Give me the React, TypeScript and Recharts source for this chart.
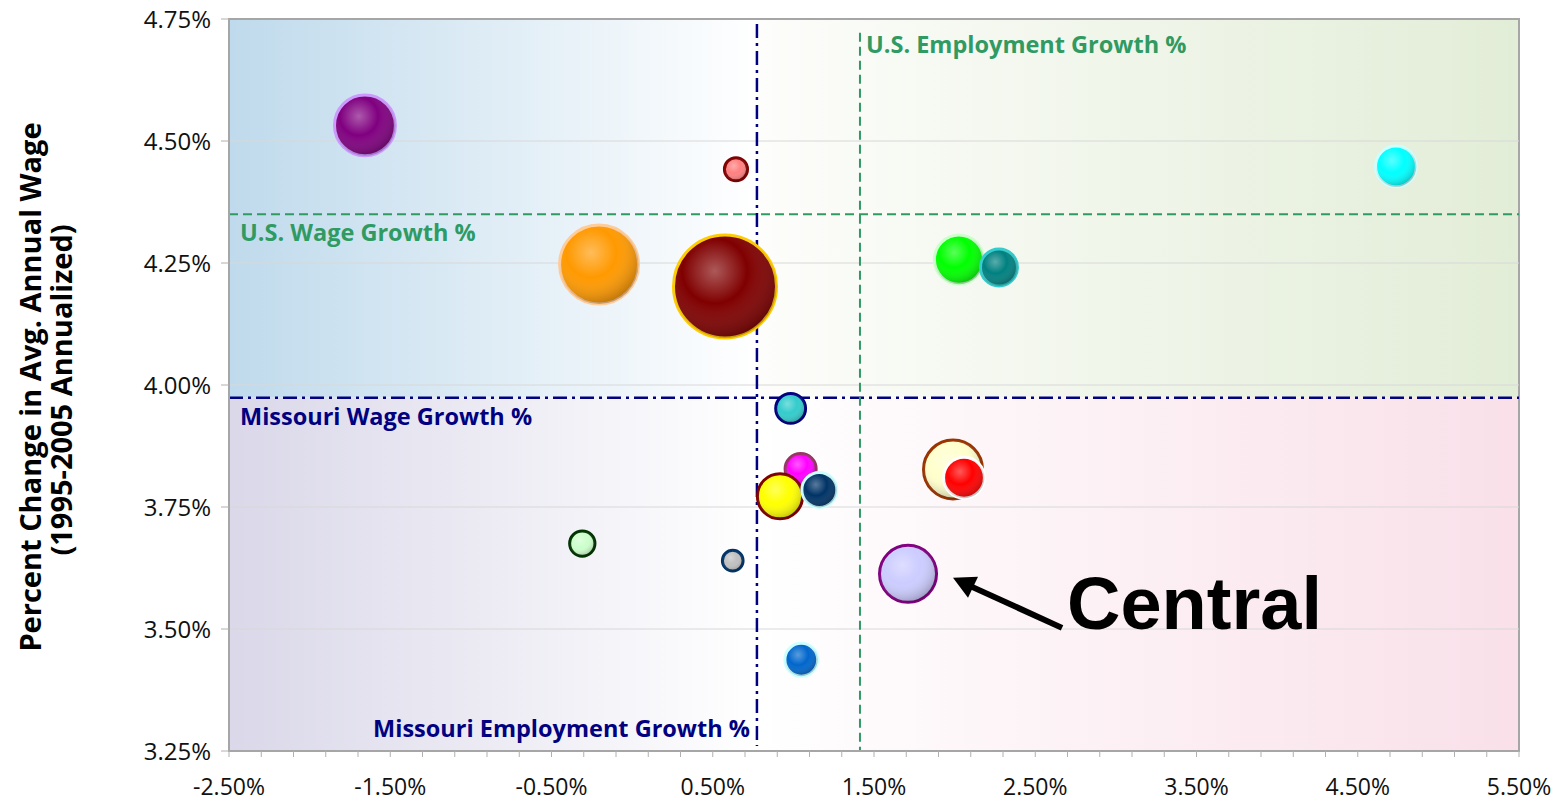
import React from 'react';
import {
  ScatterChart,
  Scatter,
  XAxis,
  YAxis,
  ZAxis,
  ReferenceLine,
  ReferenceArea,
  ReferenceDot,
  Customized,
} from 'recharts';

// employment growth (x, %) and wage growth (y, %) for each region, 1995-2005
const empGrowth = [-1.657, 0.644, 4.737, -0.205, 0.576, 2.027, 2.275, 0.983, 1.045, 0.917, 1.161, -0.309, 0.624, 1.049, 1.99, 2.058, 1.711];
const wageGrowth = [4.532, 4.442, 4.448, 4.247, 4.202, 4.257, 4.241, 3.952, 3.828, 3.772, 3.785, 3.675, 3.64, 3.437, 3.827, 3.81, 3.613];
const regionSize = [102, 17, 48, 168, 281, 68, 40, 27, 29, 58, 36, 20, 14, 32, 96, 48, 90];

const bubbleFill = ['#800080', '#ff8080', '#00ffff', '#ff9900', '#800000', '#00ff00', '#008080', '#33cccc', '#ff00ff', '#ffff00', '#003366', '#ccffcc', '#c0c0c0', '#0066cc', '#ffffcc', '#ff0000', '#ccccff'];
const bubbleStroke = ['#cc99ff', '#800000', '#ccffff', '#ffcc99', '#ffcc00', '#ccffcc', '#33cccc', '#000080', '#993366', '#800000', '#ccffff', '#003300', '#003366', '#ccffff', '#993300', '#ffffff', '#800080'];

// the highlighted region
const centralEmp = 1.711;
const centralWage = 3.613;

// benchmark lines
const usWageGrowth = 4.35;
const moWageGrowth = 3.974;
const usEmpGrowth = 1.413;
const moEmpGrowth = 0.774;

const xMajorTicks = [-2.5, -1.5, -0.5, 0.5, 1.5, 2.5, 3.5, 4.5, 5.5];
const yMajorTicks = [3.25, 3.5, 3.75, 4.0, 4.25, 4.5, 4.75];
const yGridLines = [3.5, 3.75, 4.0, 4.25, 4.5];

const xAllTicks: number[] = [];
for (let k = 0; k <= 40; k++) xAllTicks.push(Math.round((-2.5 + k * 0.2) * 100) / 100);
const yMinorTicks: number[] = [];
for (let k = 0; k <= 30; k++) yMinorTicks.push(Math.round((3.25 + k * 0.05) * 100) / 100);

const data = empGrowth.map((x, i) => ({ x, y: wageGrowth[i], z: regionSize[i], idx: i }));

const FONT = '"Open Sans", sans-serif';
const GREEN = '#2f9a62';
const NAVY = '#000080';

const Bubble = (props: any) => {
  const { cx, cy, payload } = props;
  let r = props.width ? props.width / 2 : Math.sqrt((props.size || 0) / Math.PI);
  r = Math.max(r - 1.5, 2);
  const i = payload.idx;
  return (
    <g>
      <circle cx={cx} cy={cy} r={r} fill={bubbleFill[i]} stroke={bubbleStroke[i]} strokeWidth={3} />
      <circle cx={cx} cy={cy} r={r} fill="url(#shine)" />
    </g>
  );
};

const XTick = (props: any) => {
  const { x, y, payload } = props;
  if (!xMajorTicks.some((t) => Math.abs(t - payload.value) < 1e-6)) return <g />;
  return (
    <text x={x} y={y} dy={30} textAnchor="middle" fontFamily={FONT} fontSize={23} fill="#111">
      {payload.value.toFixed(2) + '%'}
    </text>
  );
};

const lineLabel = (text: string, dx: number, dy: number, color: string) => (p: any) => {
  const vb = p.viewBox || {};
  return (
    <text x={vb.x + dx} y={vb.y + dy} fontFamily={FONT} fontWeight={700} fontSize={23.5} fill={color}>
      {text}
    </text>
  );
};

// arrow + big label pointing at the Central bubble
const CentralCallout = (props: any) => {
  const { cx, cy } = props;
  if (cx == null || cy == null) return <g />;
  const tipX = cx + 45;
  const tipY = cy + 4;
  return (
    <g>
      <line x1={cx + 154} y1={cy + 54} x2={tipX + 19} y2={tipY + 9} stroke="#000" strokeWidth={6} />
      <polygon points={`${tipX},${tipY} ${tipX + 25},${tipY - 1} ${tipX + 15},${tipY + 20}`} fill="#000" />
      <text x={cx + 159} y={cy + 55} fontFamily='"Liberation Sans", Arial, sans-serif' fontWeight={700} fontSize={74} fill="#000">
        Central
      </text>
    </g>
  );
};

const AxisTitle = () => (
  <g>
    <text transform="translate(41,387) rotate(-90)" textAnchor="middle" fontFamily={FONT} fontWeight={700} fontSize={29} fill="#000">
      Percent Change in Avg. Annual Wage
    </text>
    <text transform="translate(72,390) rotate(-90)" textAnchor="middle" fontFamily={FONT} fontWeight={700} fontSize={29} fill="#000">
      (1995-2005 Annualized)
    </text>
  </g>
);

export default function App() {
  return (
    <div style={{ position: 'absolute', left: 0, top: 0 }}>
      <ScatterChart width={1559} height={801} margin={{ top: 19, right: 40, bottom: 0, left: 0 }}>
        <defs>
          <linearGradient id="bgTL" x1="0" y1="0" x2="1" y2="0">
            <stop offset="0%" stopColor="#bfdaec" />
            <stop offset="100%" stopColor="#ffffff" />
          </linearGradient>
          <linearGradient id="bgTR" x1="0" y1="0" x2="1" y2="0">
            <stop offset="0%" stopColor="#fdfdfb" />
            <stop offset="100%" stopColor="#e2edd7" />
          </linearGradient>
          <linearGradient id="bgBL" x1="0" y1="0" x2="1" y2="0">
            <stop offset="0%" stopColor="#dad8e9" />
            <stop offset="100%" stopColor="#ffffff" />
          </linearGradient>
          <linearGradient id="bgBR" x1="0" y1="0" x2="1" y2="0">
            <stop offset="0%" stopColor="#ffffff" />
            <stop offset="100%" stopColor="#f9e0e9" />
          </linearGradient>
          <radialGradient id="shine" cx="40%" cy="35%" r="70%">
            <stop offset="0%" stopColor="#ffffff" stopOpacity={0.35} />
            <stop offset="45%" stopColor="#ffffff" stopOpacity={0} />
            <stop offset="100%" stopColor="#000000" stopOpacity={0.3} />
          </radialGradient>
        </defs>
        <XAxis
          type="number"
          dataKey="x"
          domain={[-2.5, 5.5]}
          ticks={xAllTicks}
          interval={0}
          height={50}
          tickSize={6}
          tickMargin={8}
          tick={<XTick />}
          axisLine={{ stroke: '#a6a6a6', strokeWidth: 2 }}
          tickLine={{ stroke: '#b0b0b0' }}
          allowDataOverflow
        />
        <YAxis
          type="number"
          dataKey="y"
          domain={[3.25, 4.75]}
          ticks={yMajorTicks}
          interval={0}
          width={229}
          tickSize={8}
          tickMargin={10}
          tickFormatter={(v: number) => v.toFixed(2) + '%'}
          tick={{ fontFamily: FONT, fontSize: 24, fill: '#111' }}
          axisLine={{ stroke: '#a6a6a6', strokeWidth: 2 }}
          tickLine={{ stroke: '#b0b0b0' }}
          allowDataOverflow
        />
        <YAxis
          yAxisId="minor"
          type="number"
          domain={[3.25, 4.75]}
          ticks={yMinorTicks}
          interval={0}
          width={0}
          mirror
          tickSize={6}
          tick={() => <g />}
          axisLine={false}
          tickLine={{ stroke: '#c0c0c0' }}
        />
        <ZAxis type="number" dataKey="z" domain={[0, 300]} range={[0, 3000 * Math.PI]} />
        <ReferenceArea x1={-2.5} x2={moEmpGrowth} y1={moWageGrowth} y2={4.75} fill="url(#bgTL)" fillOpacity={1} />
        <ReferenceArea x1={moEmpGrowth} x2={5.5} y1={moWageGrowth} y2={4.75} fill="url(#bgTR)" fillOpacity={1} />
        <ReferenceArea x1={-2.5} x2={moEmpGrowth} y1={3.25} y2={moWageGrowth} fill="url(#bgBL)" fillOpacity={1} />
        <ReferenceArea x1={moEmpGrowth} x2={5.5} y1={3.25} y2={moWageGrowth} fill="url(#bgBR)" fillOpacity={1} />
        {yGridLines.map((v) => (
          <ReferenceLine key={v} y={v} stroke="#d8d8d8" strokeWidth={1} />
        ))}
        <ReferenceLine
          y={usWageGrowth}
          stroke={GREEN}
          strokeWidth={2}
          strokeDasharray="9 5"
          label={lineLabel('U.S. Wage Growth %', 11, 27, GREEN)}
        />
        <ReferenceLine
          y={moWageGrowth}
          stroke={NAVY}
          strokeWidth={2.5}
          strokeDasharray="14 5 3 5"
          label={lineLabel('Missouri Wage Growth %', 11, 27, NAVY)}
        />
        <Scatter data={data} shape={<Bubble />} isAnimationActive={false} />
        <ReferenceLine
          segment={[{ x: usEmpGrowth, y: 4.722 }, { x: usEmpGrowth, y: 3.25 }]}
          stroke={GREEN}
          strokeWidth={2}
          strokeDasharray="9 5"
          label={lineLabel('U.S. Employment Growth %', 6, 20, GREEN)}
        />
        <ReferenceLine
          segment={[{ x: moEmpGrowth, y: 4.74 }, { x: moEmpGrowth, y: 3.26 }]}
          stroke={NAVY}
          strokeWidth={2.5}
          strokeDasharray="14 5 3 5"
          label={(p: any) => {
            const vb = p.viewBox || {};
            return (
              <text x={vb.x - 7} y={vb.y + (vb.height || 0) - 9} textAnchor="end" fontFamily={FONT} fontWeight={700} fontSize={23.5} fill={NAVY}>
                Missouri Employment Growth %
              </text>
            );
          }}
        />
        <ReferenceDot x={centralEmp} y={centralWage} r={0} shape={<CentralCallout />} />
        <ReferenceArea x1={-2.5} x2={5.5} y1={3.25} y2={4.75} fill="none" stroke="#a6a6a6" strokeWidth={2} />
        <Customized component={AxisTitle} />
      </ScatterChart>
    </div>
  );
}
